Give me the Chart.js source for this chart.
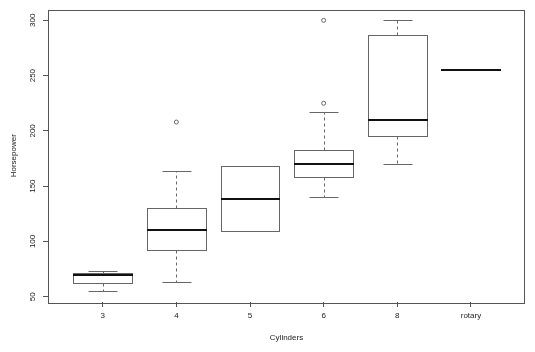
<!DOCTYPE html>
<html>
<head>
<meta charset="utf-8">
<script src="https://cdn.jsdelivr.net/npm/chart.js@4.4.1/dist/chart.umd.min.js"></script>
<style>
  html, body { margin: 0; padding: 0; background: #fff; }
  #grafico { display: block; }
</style>
</head>
<body>
<canvas id="grafico" width="535" height="352"></canvas>
<script>
// Dados do boxplot
const categorias = ['3', '4', '5', '6', '8', 'rotary'];
const bigodeInferior = [55, 63, 109, 140, 170, 255];
const quartil1 = [62.5, 92, 109, 158, 195.5, 255];
const mediana = [70, 110, 138.5, 170, 210, 255];
const quartil3 = [71.5, 130, 168, 182.5, 287, 255];
const bigodeSuperior = [73, 164, 168, 217, 300, 255];
const outliers = [[], [208], [], [225, 300], [], []];
const ticksY = [50, 100, 150, 200, 250, 300];

const pontosOutliers = [];
outliers.forEach((lista, i) => {
    lista.forEach(v => pontosOutliers.push({ x: i + 1, y: v }));
});

const corTexto = '#222';
const corLinha = '#666';
const fonte = { family: '"Liberation Sans", Arial, sans-serif', size: 8 };

// Plugin que desenha as caixas, a moldura e os rótulos do eixo y
const boxplotPlugin = {
    id: 'boxplot',
    beforeDatasetsDraw(chart) {
        const ctx = chart.ctx;
        const xs = chart.scales.x;
        const ys = chart.scales.y;
        const px = v => Math.round(xs.getPixelForValue(v)) + 0.5;
        const py = v => Math.round(ys.getPixelForValue(v)) + 0.5;
        ctx.save();
        categorias.forEach((c, i) => {
            const pos = i + 1;
            const xe = px(pos - 0.4), xd = px(pos + 0.4);
            const xc = px(pos);
            const cl = px(pos - 0.2), cr = px(pos + 0.2);

            // bigodes tracejados
            ctx.strokeStyle = corLinha;
            ctx.lineWidth = 1;
            ctx.setLineDash([3, 3]);
            ctx.beginPath();
            if (bigodeSuperior[i] > quartil3[i]) {
                ctx.moveTo(xc, py(quartil3[i]));
                ctx.lineTo(xc, py(bigodeSuperior[i]));
            }
            if (bigodeInferior[i] < quartil1[i]) {
                ctx.moveTo(xc, py(quartil1[i]));
                ctx.lineTo(xc, py(bigodeInferior[i]));
            }
            ctx.stroke();
            ctx.setLineDash([]);

            // limites dos bigodes
            ctx.beginPath();
            if (bigodeSuperior[i] > quartil3[i]) {
                ctx.moveTo(cl, py(bigodeSuperior[i]));
                ctx.lineTo(cr, py(bigodeSuperior[i]));
            }
            if (bigodeInferior[i] < quartil1[i]) {
                ctx.moveTo(cl, py(bigodeInferior[i]));
                ctx.lineTo(cr, py(bigodeInferior[i]));
            }
            ctx.stroke();

            // caixa
            if (quartil3[i] > quartil1[i]) {
                ctx.fillStyle = '#fff';
                const yt = py(quartil3[i]), yb = py(quartil1[i]);
                ctx.fillRect(xe, yt, xd - xe, yb - yt);
                ctx.strokeRect(xe, yt, xd - xe, yb - yt);
            }

            // mediana
            ctx.strokeStyle = '#111';
            ctx.lineWidth = 2;
            ctx.beginPath();
            const ym = Math.round(ys.getPixelForValue(mediana[i]));
            ctx.moveTo(xe - 0.5, ym);
            ctx.lineTo(xd + 0.5, ym);
            ctx.stroke();
        });
        ctx.restore();
    },
    afterDraw(chart) {
        const ctx = chart.ctx;
        const a = chart.chartArea;
        const ys = chart.scales.y;
        ctx.save();
        // moldura
        ctx.strokeStyle = '#555';
        ctx.lineWidth = 1;
        ctx.strokeRect(Math.round(a.left) + 0.5, Math.round(a.top) + 0.5,
            Math.round(a.right - a.left) - 1, Math.round(a.bottom - a.top));
        // rótulos do eixo y (verticais, como no R)
        ctx.fillStyle = corTexto;
        ctx.font = fonte.size + 'px ' + fonte.family;
        ctx.textAlign = 'center';
        ctx.textBaseline = 'middle';
        ticksY.forEach(v => {
            ctx.save();
            ctx.translate(a.left - 15, ys.getPixelForValue(v));
            ctx.rotate(-Math.PI / 2);
            ctx.fillText(String(v), 0, 0);
            ctx.restore();
        });
        ctx.restore();
    }
};

const ctx = document.getElementById('grafico').getContext('2d');
new Chart(ctx, {
    type: 'scatter',
    data: {
        datasets: [{
            label: 'Outliers',
            data: pontosOutliers,
            pointRadius: 2,
            pointBorderWidth: 1,
            pointBorderColor: corLinha,
            pointBackgroundColor: 'rgba(0,0,0,0)'
        }]
    },
    options: {
        responsive: false,
        animation: false,
        layout: { padding: { top: 9.5, right: 10, left: 0, bottom: 0 } },
        plugins: {
            legend: { display: false },
            tooltip: { enabled: false }
        },
        scales: {
            x: {
                type: 'linear',
                min: 0.257,
                max: 6.734,
                afterBuildTicks: s => { s.ticks = categorias.map((c, i) => ({ value: i + 1 })); },
                afterFit: s => { s.height = 50; },
                border: { display: false },
                grid: { drawOnChartArea: false, tickLength: 5, color: '#555' },
                ticks: {
                    color: corTexto,
                    font: fonte,
                    padding: 4,
                    maxRotation: 0,
                    autoSkip: false,
                    callback: v => categorias[Math.round(v) - 1]
                },
                title: {
                    display: true,
                    text: 'Cylinders',
                    color: corTexto,
                    font: fonte,
                    padding: { top: 0, bottom: 9 }
                }
            },
            y: {
                min: 45.2,
                max: 309.8,
                afterBuildTicks: s => { s.ticks = ticksY.map(v => ({ value: v })); },
                afterFit: s => { s.width = 48; },
                border: { display: false },
                grid: { drawOnChartArea: false, tickLength: 5, color: '#555' },
                ticks: { display: false },
                title: {
                    display: true,
                    text: 'Horsepower',
                    color: corTexto,
                    font: fonte,
                    padding: { top: 8.5, bottom: 0 }
                }
            }
        }
    },
    plugins: [boxplotPlugin]
});
</script>
</body>
</html>
